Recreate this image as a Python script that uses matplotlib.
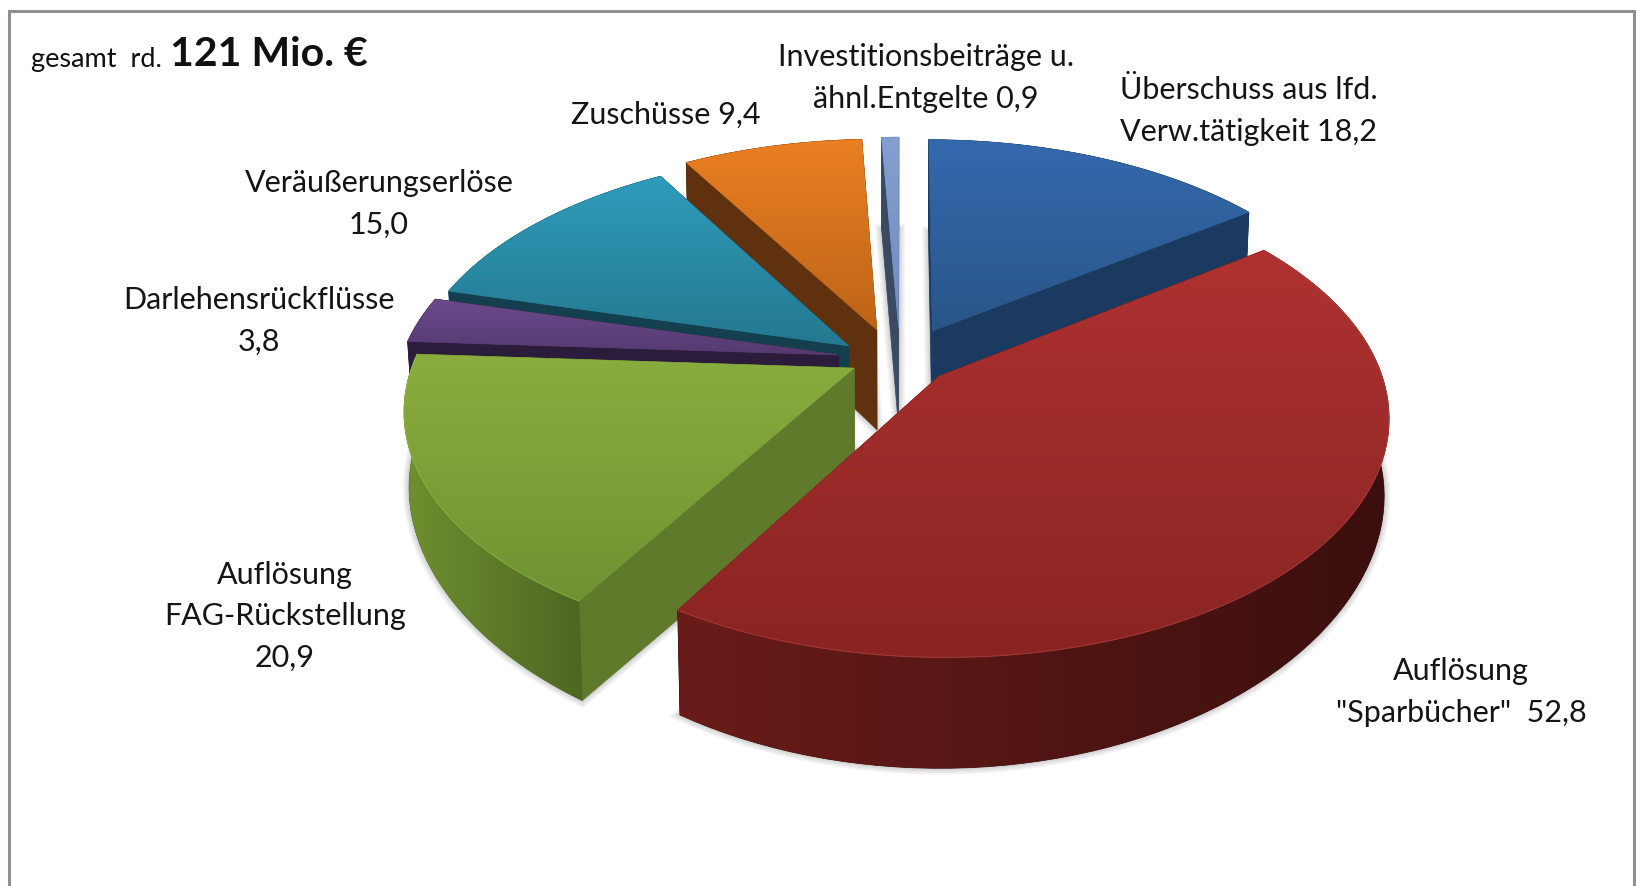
import numpy as np
import matplotlib
matplotlib.use('Agg')
import matplotlib.pyplot as plt
from matplotlib.colors import LinearSegmentedColormap
from matplotlib.patches import Polygon

# Werte in Mio. Euro, im Uhrzeigersinn ab 12 Uhr
labels = ['Überschuss aus lfd.\nVerw.tätigkeit {}', 'Auflösung\n"Sparbücher"  {}', 'Auflösung\nFAG-Rückstellung\n{}',
          'Darlehensrückflüsse\n{}', 'Veräußerungserlöse\n{}', 'Zuschüsse {}', 'Investitionsbeiträge u.\nähnl.Entgelte {}']
values = [18.2, 52.8, 20.9, 3.8, 15.0, 9.4, 0.9]
total_text = '121 Mio. €'

top_a = ['#3569ae', '#ae3230', '#8aad3e', '#6b4a8c', '#2f9cbb', '#ea7f23', '#84a0d0']
top_b = ['#285688', '#892423', '#6f9332', '#553a70', '#24788f', '#bd6418', '#6f8cc0']
side = ['#1b3a60', '#6a1c1a', '#5f7a2a', '#2c1c3c', '#143f4e', '#5f310e', '#3a4a63']
rim_a = ['#1b3a60', '#6a1c1a', '#6f9030', '#2c1c3c', '#143f4e', '#5f310e', '#3a4a63']
rim_b = ['#1b3a60', '#3a0f0d', '#4e6621', '#2c1c3c', '#143f4e', '#5f310e', '#3a4a63']
draw_order = [0, 6, 5, 4, 3, 2, 1]

label_x = [1249, 1461, 285, 259, 379, 666, 926]
label_y = [111, 692, 616, 321, 204, 115, 78]

# Projektion der Tortenscheibe
cx, cy = 903, 360
R, Ry = 438, 230
k = 0.16
explode = [0.14, 0.11, 0.14, 0.14, 0.14, 0.14, 0.14]
nudge_x = [2, 0, 6, -4, -6, -9, -3]
nudge_y = [0, 0, -6, 1, 6, 1, 0]
depth = 101
W, H = 1636, 887


def project(u, v, lower=False):
    s = 1 / (1 - k * v)
    x = R * u * s
    y = Ry * v * s
    if lower:
        # zu den Seiten hin wird die Wand niedriger
        return cx + x * 0.99, cy + y + depth * np.sqrt(s) * (1 - 0.22 * u ** 2)
    return cx + x, cy + y


def face(ax, pts, c1, c2, z, horizontal=False):
    pts = np.array(pts)
    ax.add_patch(Polygon(pts, closed=True, fc=c2, ec=c2, lw=0.5, zorder=z))
    cm = LinearSegmentedColormap.from_list('g', [c1, c2])
    grad = np.linspace(0, 1, 256)
    grad = grad.reshape(1, -1) if horizontal else grad.reshape(-1, 1)
    x0, y0 = pts.min(axis=0)
    x1, y1 = pts.max(axis=0)
    im = ax.imshow(grad, cmap=cm, extent=(x0, x1, y1, y0), aspect='auto', zorder=z + 0.1, interpolation='bilinear')
    clip = Polygon(pts, closed=True, transform=ax.transData)
    im.set_clip_path(clip)


fig = plt.figure(figsize=(W / 100, H / 100), dpi=100)
ax = fig.add_axes([0, 0, 1, 1])
plt.rcParams['font.family'] = ['Lato', 'DejaVu Sans']

edges = np.cumsum([0] + values) / sum(values) * 2 * np.pi
z = 2
for i in draw_order:
    t = np.linspace(edges[i], edges[i + 1], 80)
    mid = (edges[i] + edges[i + 1]) / 2
    ou, ov = explode[i] * np.sin(mid), -explode[i] * np.cos(mid)
    u, v = ou + np.sin(t), ov - np.cos(t)

    tx, ty = project(u, v)
    bx, by = project(u, v, True)
    ax0, ay0 = project(ou, ov)
    bx0, by0 = project(ou, ov, True)
    tx, bx = tx + nudge_x[i], bx + nudge_x[i]
    ty, by = ty + nudge_y[i], by + nudge_y[i]
    ax0, bx0 = ax0 + nudge_x[i], bx0 + nudge_x[i]
    ay0, by0 = ay0 + nudge_y[i], by0 + nudge_y[i]
    top = list(zip(tx, ty)) + [(ax0, ay0)]
    low = list(zip(bx, by)) + [(bx0, by0)]

    # weicher Schatten unter dem Stueck
    for lw in [9, 6.5, 4, 2]:
        ax.add_patch(Polygon(low, closed=True, fc='none', ec='#555555', lw=lw, alpha=0.07, zorder=z))
    z += 1

    # Seitenflaechen
    for e in [0, -1]:
        quad = [(tx[e], ty[e]), (ax0, ay0), (bx0, by0), (bx[e], by[e])]
        ax.add_patch(Polygon(quad, closed=True, fc=side[i], ec=side[i], lw=0.5, zorder=z))
    z += 1
    wall = list(zip(tx, ty)) + list(zip(bx[::-1], by[::-1]))
    face(ax, wall, rim_a[i], rim_b[i], z, horizontal=True)
    z += 1
    face(ax, top, top_a[i], top_b[i], z)
    z += 1
    if i in (1, 2):
        light = '#c4504a' if i == 1 else '#a3c24f'
        ax.plot(tx, ty, color=light, lw=0.8, alpha=0.45, zorder=z)
        z += 1

# Rahmen
ax.plot([9, 9, 1634, 1634], [H, 12, 12, H], color='#8f8f8f', lw=2.2, zorder=1, solid_joinstyle='miter')

# Beschriftung
for name, val, lx, ly in zip(labels, values, label_x, label_y):
    txt = name.format(f'{val:.1f}'.replace('.', ','))
    ax.text(lx, ly, txt, ha='center', va='center', ma='center', fontsize=22, color='#151515',
            linespacing=1.58, zorder=100)
ax.text(31, 60, 'gesamt  rd.', ha='left', va='center', fontsize=19.5, color='#111111', zorder=100)
ax.text(170, 54, total_text, ha='left', va='center', fontsize=29.5, fontweight='bold', color='#111111', zorder=100)

ax.set_xlim(0, W)
ax.set_ylim(H, 0)
ax.axis('off')
fig.savefig('out.png', dpi=100, facecolor='white')
